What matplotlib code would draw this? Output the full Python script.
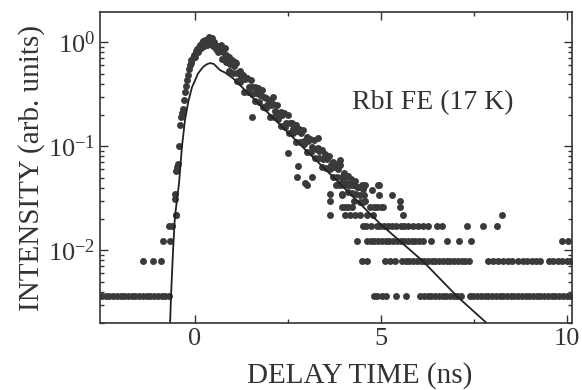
import numpy as np
import matplotlib
matplotlib.use('Agg')
import matplotlib.pyplot as plt
from matplotlib.ticker import FixedLocator, LogLocator, NullFormatter

plt.rcParams['font.family'] = ['Liberation Serif', 'DejaVu Serif']
plt.rcParams['mathtext.fontset'] = 'custom'
plt.rcParams['mathtext.rm'] = 'Liberation Serif'
plt.rcParams['mathtext.it'] = 'Liberation Serif:italic'

# rising edge and peak of the decay curve (ns, arb. units)
rise_x = [-0.62, -0.55, -0.54, -0.51, -0.52, -0.49, -0.46, -0.43, -0.40, -0.38,
          -0.35, -0.32, -0.30, -0.27, -0.24, -0.21, -0.19, -0.15, -0.13, -0.11,
          -0.06, -0.02, 0.02, 0.06, 0.10, 0.14, 0.18, 0.22, 0.26, 0.30,
          0.34, 0.38, 0.42, 0.46, 0.50, 0.55, 0.60, 0.64,
          -0.10, 0.00, 0.08, 0.16, 0.24, 0.32, 0.40, 0.44, 0.48, 0.56, 0.62]
rise_y = [0.017, 0.031, 0.035, 0.0217, 0.058, 0.063, 0.068, 0.10, 0.16, 0.19,
          0.21, 0.23, 0.28, 0.33, 0.38, 0.43, 0.48, 0.55, 0.60, 0.63,
          0.70, 0.76, 0.82, 0.87, 0.90, 0.95, 0.98, 1.02, 1.05, 1.02,
          1.08, 1.12, 1.06, 1.10, 1.00, 0.95, 0.92, 0.88,
          0.68, 0.72, 0.80, 0.88, 0.92, 0.95, 0.98, 1.03, 0.93, 0.86, 0.80]

# main exponential band (upper / middle / lower edge)
band_x = [0.7, 0.8, 0.9, 1.0, 1.1, 1.2, 1.3, 1.4, 1.5, 1.6, 1.7, 1.8, 1.9,
          2.0, 2.1, 2.2, 2.3, 2.4, 2.5, 2.6, 2.7, 2.8, 2.9, 3.0, 3.1, 3.2,
          3.3, 3.4, 3.5, 3.6, 3.7, 3.8, 3.9, 4.0, 4.1, 4.2, 4.3, 4.4, 4.5]
band_hi = [0.933, 0.871, 0.724, 0.676, 0.631, 0.525, 0.485, 0.449, 0.434, 0.373,
           0.361, 0.349, 0.294, 0.278, 0.256, 0.248, 0.214, 0.207, 0.200, 0.168,
           0.159, 0.147, 0.142, 0.122, 0.118, 0.115, 0.0964, 0.0912, 0.0841, 0.0813,
           0.0701, 0.0678, 0.0656, 0.0552, 0.0521, 0.0482, 0.0466, 0.0402, 0.0388]
band_mid = [0.813, 0.759, 0.617, 0.589, 0.501, 0.468, 0.443, 0.373, 0.369, 0.325,
            0.308, 0.297, 0.251, 0.248, 0.218, 0.207, 0.200, 0.168, 0.166, 0.147,
            0.139, 0.134, 0.113, 0.112, 0.0984, 0.0931, 0.0899, 0.0759, 0.0750, 0.0661,
            0.0625, 0.0604, 0.0509, 0.0504, 0.0444, 0.0420, 0.0406, 0.0342, 0.0338]
band_lo = [0.692, 0.646, 0.525, 0.501, 0.427, 0.417, 0.336, 0.333, 0.321, 0.270,
           0.268, 0.236, 0.234, 0.192, 0.190, 0.184, 0.155, 0.153, 0.135, 0.134,
           0.110, 0.109, 0.105, 0.0887, 0.0877, 0.0774, 0.0766, 0.0631, 0.0624, 0.0603,
           0.0508, 0.0502, 0.0444, 0.0439, 0.0361, 0.0357, 0.0345, 0.0291, 0.0288]

# stray points around the band
stray_x = [1.08, 1.53, 1.67, 2.10, 2.50, 2.74, 2.77, 2.96, 3.00, 3.15, 3.30,
           3.63, 3.90, 3.95, 4.57, 4.76, 4.92]
stray_y = [0.65, 0.19, 0.36, 0.30, 0.087, 0.051, 0.064, 0.044, 0.042, 0.051, 0.12,
           0.035, 0.074, 0.035, 0.042, 0.038, 0.042]

# photon-count levels in the tail
lvl_042_x = [3.80, 3.90, 4.00, 4.10, 4.20, 4.48, 4.93]
lvl_034_x = [3.94, 4.95, 5.29]
lvl_030_x = [3.63, 4.26, 4.57, 5.51]
lvl_026_x = [3.94, 4.03, 4.12, 4.21, 4.70, 4.80, 4.90, 5.00, 5.06, 5.51]
lvl_022_x = [-0.51, 3.63, 4.03, 4.15, 4.30, 4.44, 4.62, 4.79, 5.60, 8.24]
lvl_017_x = [-0.70, 4.50, 4.60, 4.72, 4.88, 4.98, 5.08, 5.18, 5.30, 5.40, 5.52,
             5.62, 5.72, 5.85, 6.00, 6.12, 6.25, 6.50, 6.63, 7.30, 7.73, 8.11]
lvl_012_x = [-0.86, -0.67, 4.35, 4.62, 4.72, 4.82, 4.92, 5.02, 5.12, 5.22, 5.32,
             5.42, 5.52, 5.62, 5.72, 5.82, 5.92, 6.02, 6.12, 6.35, 6.77, 7.08,
             7.41, 9.86, 10.03]
lvl_008_x = [-1.40, -1.13, -0.91, 4.49, 4.62, 5.11, 5.24, 5.36, 5.56, 5.66, 5.76,
             5.86, 5.96, 6.06, 6.16, 6.26, 6.36, 6.46, 6.56, 6.66, 6.76, 6.86,
             6.96, 7.06, 7.16, 7.26, 7.36, 7.88, 8.00, 8.15, 8.28, 8.40, 8.52,
             8.68, 8.80, 8.92, 9.04, 9.16, 9.28, 9.50, 9.62, 9.74, 9.86, 9.98, 10.08]
lvl_004_x = [-2.50, -2.40, -2.30, -2.20, -2.10, -2.00, -1.90, -1.80, -1.70, -1.60,
             -1.50, -1.40, -1.30, -1.20, -1.10, -1.00, -0.90, -0.80, -0.70,
             4.80, 4.90, 5.02, 5.12, 5.40, 5.67, 6.05, 6.15, 6.25, 6.35, 6.45,
             6.55, 6.65, 6.75, 6.85, 6.95, 7.05, 7.15, 7.38, 7.48, 7.58, 7.68,
             7.78, 7.88, 7.98, 8.08, 8.18, 8.28, 8.38, 8.48, 8.58, 8.68, 8.78,
             8.88, 8.98, 9.08, 9.18, 9.28, 9.38, 9.48, 9.58, 9.68, 9.78, 9.88,
             9.98, 10.08]
levels = {0.042: lvl_042_x, 0.034: lvl_034_x, 0.030: lvl_030_x, 0.026: lvl_026_x,
          0.022: lvl_022_x, 0.017: lvl_017_x, 0.0122: lvl_012_x,
          0.0078: lvl_008_x, 0.0036: lvl_004_x}

# fitted curve
fit_x = [-0.67, -0.64, -0.59, -0.54, -0.43, -0.35, -0.27, -0.18, -0.08, 0.08,
         0.20, 0.30, 0.40, 0.50, 0.67, 0.81, 1.02, 1.50, 2.00, 3.00, 4.00,
         4.97, 6.13, 7.04, 7.90]
fit_y = [0.0020, 0.0040, 0.010, 0.021, 0.044, 0.10, 0.178, 0.27, 0.37, 0.50,
         0.57, 0.61, 0.63, 0.62, 0.54, 0.51, 0.45, 0.305, 0.203, 0.090, 0.040,
         0.018, 0.0078, 0.0036, 0.0019]

fig = plt.figure(figsize=(5.82, 3.90), dpi=100)
ax = fig.add_axes([0.172, 0.172, 0.811, 0.797])

dot = dict(ls='none', marker='o', ms=5.0, color='#3a3a3a', mec='none')
ax.plot(rise_x, rise_y, **dot)
ax.plot(band_x, band_hi, **dot)
ax.plot(np.array(band_x) + 0.04, band_mid, **dot)
ax.plot(np.array(band_x) + 0.02, band_lo, **dot)
ax.plot(stray_x, stray_y, **dot)
for lv, xs in levels.items():
    ax.plot(xs, [lv] * len(xs), **dot)

ax.plot(fit_x, fit_y, color='#222222', lw=1.3)

ax.set_yscale('log')
ax.set_xlim(-2.55, 10.13)
ax.set_ylim(0.002, 1.95)

ax.set_xticks([0, 5, 10])
ax.xaxis.set_minor_locator(FixedLocator([2.5, 7.5]))
ax.yaxis.set_major_locator(LogLocator(base=10, numticks=10))
ax.yaxis.set_minor_locator(LogLocator(base=10, subs=np.arange(2, 10), numticks=10))
ax.yaxis.set_minor_formatter(NullFormatter())
ax.tick_params(which='both', direction='in', top=True, right=True, width=1,
               labelsize=19, colors='#333333')
ax.tick_params(which='major', length=6)
ax.tick_params(which='minor', length=3)
for s in ax.spines.values():
    s.set_linewidth(1.2)
    s.set_color('#333333')

ax.set_xlabel('DELAY TIME (ns)', fontsize=21, color='#333333', labelpad=5)
ax.xaxis.set_label_coords(0.549, -0.125)
ax.set_ylabel('INTENSITY (arb. units)', fontsize=21, color='#333333', labelpad=2)
ax.text(4.22, 0.225, 'RbI FE (17 K)', fontsize=20, color='#333333')

fig.savefig('out.png', dpi=100)
